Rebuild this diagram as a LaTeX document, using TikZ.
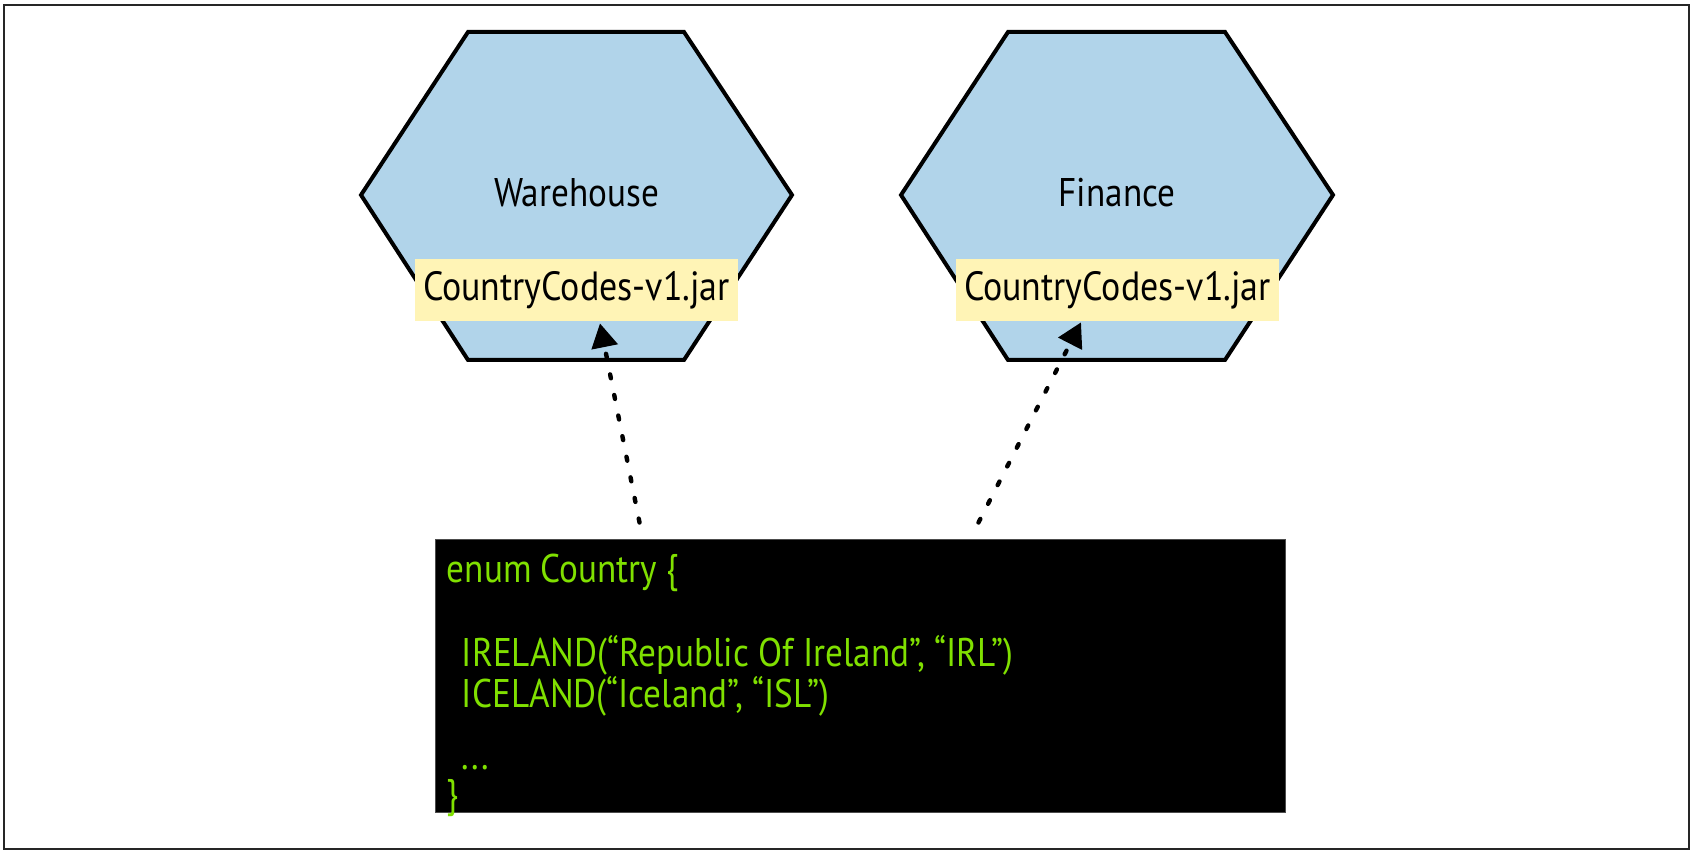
\documentclass[tikz,border=0pt]{standalone}
\usepackage{fontspec}
\setmainfont{PT Sans}[FakeStretch=0.88]
\usetikzlibrary{arrows.meta,positioning,calc}
\definecolor{HexBlue}{HTML}{B1D4EA}
\definecolor{JarYellow}{HTML}{FFF4B6}
\definecolor{CodeGreen}{HTML}{80E000}
\tikzset{
  frame/.style={draw=black!85, line width=1pt},
  hexside/.style={draw=black, fill=HexBlue, line width=2pt, line join=miter},
  ctxlabel/.style={anchor=base, inner sep=0pt, font=\fontsize{20}{24}\selectfont},
  jar/.style={fill=JarYellow, minimum width=161.5pt, minimum height=31pt, inner sep=0pt,
              font=\fontsize{20.4}{24}\selectfont},
  codebox/.style={fill=black, draw=black!70, line width=0.5pt, minimum width=425pt,
                  minimum height=136.5pt, inner sep=0pt},
  codeline/.style={anchor=base west, inner sep=0pt, text=CodeGreen, font=\fontsize{20}{22}\selectfont},
  uses/.style={-{Triangle[length=12pt,width=13pt]}, line width=2.2pt,
               dash pattern=on 2pt off 8.5pt, line cap=round},
}

\begin{document}
\begin{tikzpicture}[x=0.5pt,y=-0.5pt]
    \useasboundingbox (0,0) rectangle (1694,854);
    \draw[frame] (4,5) rectangle (1689,849);
    % bounded contexts
    \draw[hexside] (468,32) -- (684,32) -- (792,195) -- (684,360) -- (468,360) -- (361,195) -- cycle;
    \draw[hexside] (1008,32) -- (1225,32) -- (1333,195) -- (1225,360) -- (1008,360) -- (901,195) -- cycle;
    \node[ctxlabel] (warehouse) at (576.5,207) {Warehouse};
    \node[ctxlabel] (finance) at (1117,207) {Finance};
    \node[jar] (whjar) at (576.5,290) {CountryCodes-v1.jar};
    \node[jar] (finjar) at (1117.5,290) {CountryCodes-v1.jar};
    % shared code
    \node[codebox] (code) at (860,676.5) {};
    \node[codeline] (enumline) at ($(code.north west)+(12,43)$) {enum Country \{};
    \node[codeline] (irlline) at ($(code.north west)+(27,127)$) {IRELAND(“Republic Of Ireland”, “IRL”)};
    \node[codeline] (islline) at ($(code.north west)+(27,168)$) {ICELAND(“Iceland”, “ISL”)};
    \node[codeline] (moreline) at ($(code.north west)+(27,230)$) {...};
    \node[codeline] (closeline) at ($(code.north west)+(12,268)$) {\}};
    \draw[uses] ($(code.north west)+(205,-17)$) -- ($(whjar.south)+(23.5,2)$);
    \draw[uses] ($(code.north west)+(544,-17)$) -- ($(finjar.south)+(-36.5,1)$);
  \end{tikzpicture}
\end{document}
